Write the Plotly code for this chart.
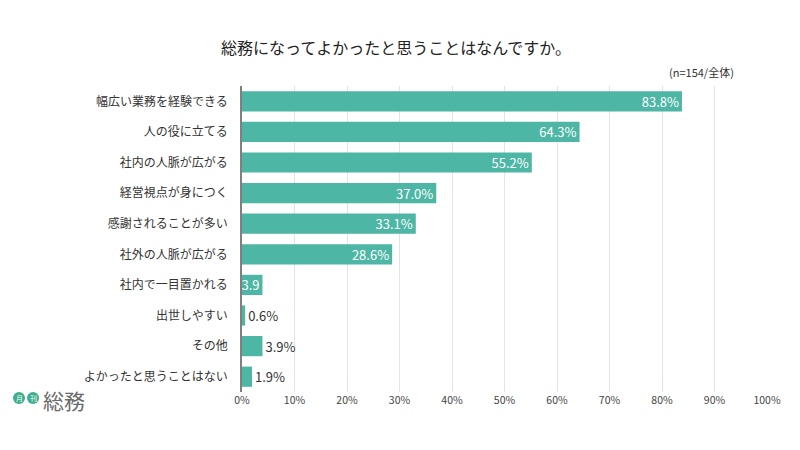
import plotly.graph_objects as go

categories = ["幅広い業務を経験できる", "人の役に立てる", "社内の人脈が広がる", "経営視点が身につく",
              "感謝されることが多い", "社外の人脈が広がる", "社内で一目置かれる", "出世しやすい",
              "その他", "よかったと思うことはない"]
values = [83.8, 64.3, 55.2, 37.0, 33.1, 28.6, 3.9, 0.6, 3.9, 1.9]
label_text = ["83.8%", "64.3%", "55.2%", "37.0%", "33.1%", "28.6%", "3.9", "0.6%", "3.9%", "1.9%"]
label_pos = ["inside"] * 7 + ["outside"] * 3
tick_vals = [0, 10, 20, 30, 40, 50, 60, 70, 80, 90, 100]
tick_text = ["0%", "10%", "20%", "30%", "40%", "50%", "60%", "70%", "80%", "90%", "100%"]

FONT = "Noto Sans CJK JP"
TEAL = "#4db6a5"

# page body has an 8px margin; figure is sized/offset to compensate
W, H = 792, 442
L, R, T, B = 234, 33, 78, 58


def px(xs):  # screen x -> paper x
    return (xs - 8 - L) / (W - L - R)


def py(ys):  # screen y -> paper y
    return (H - B - (ys - 8)) / (H - T - B)


fig = go.Figure(go.Bar(
    x=values, y=categories, orientation="h",
    marker=dict(color=TEAL, line=dict(width=0)),
    text=label_text, textposition=label_pos, textangle=0,
    insidetextanchor="end", constraintext="none",
    insidetextfont=dict(color="white", size=13, family=FONT),
    outsidetextfont=dict(color="#333333", size=13, family=FONT),
    cliponaxis=False,
))

fig.update_layout(
    width=W, height=H,
    margin=dict(l=L, r=R, t=T, b=B, autoexpand=False),
    paper_bgcolor="white", plot_bgcolor="white",
    bargap=0.34,
    showlegend=False,
    font=dict(family=FONT, color="#333333"),
    title=dict(text="総務になってよかったと思うことはなんですか。", x=(396 - 8) / W, xanchor="center",
               y=1 - (48 - 8) / H, yanchor="middle", font=dict(size=16, color="#222222", family=FONT)),
    xaxis=dict(range=[0, 100], tickvals=tick_vals, ticktext=tick_text,
               showgrid=True, gridcolor="#e3e3e3", gridwidth=1, zeroline=False,
               tickfont=dict(size=10.5, color="#444444", family=FONT), ticks="", fixedrange=True),
    yaxis=dict(autorange="reversed", showline=True, linecolor="#808080", linewidth=1.5,
               tickfont=dict(size=12, color="#333333", family=FONT), ticks="", ticklen=0,
               ticklabelstandoff=10),
)

fig.add_annotation(text="(n=154/全体)", xref="paper", yref="paper", x=px(736), y=py(72),
                   xanchor="right", yanchor="middle", showarrow=False,
                   font=dict(size=11, color="#333333", family=FONT))

# logo
for cx, ch in [(19, "月"), (33, "刊")]:
    fig.add_shape(type="circle", xref="paper", yref="paper",
                  x0=px(cx - 6), x1=px(cx + 6), y0=py(404), y1=py(392),
                  fillcolor="#3fae8c", line=dict(width=0), layer="above")
    fig.add_annotation(text=ch, xref="paper", yref="paper", x=px(cx), y=py(398),
                       showarrow=False, xanchor="center", yanchor="middle",
                       font=dict(size=7, color="white", family=FONT))
fig.add_annotation(text="総務", xref="paper", yref="paper", x=px(41), y=py(400),
                   showarrow=False, xanchor="left", yanchor="middle",
                   font=dict(size=21, color="#6a6a6a", family=FONT))

fig.write_html("out.html")
